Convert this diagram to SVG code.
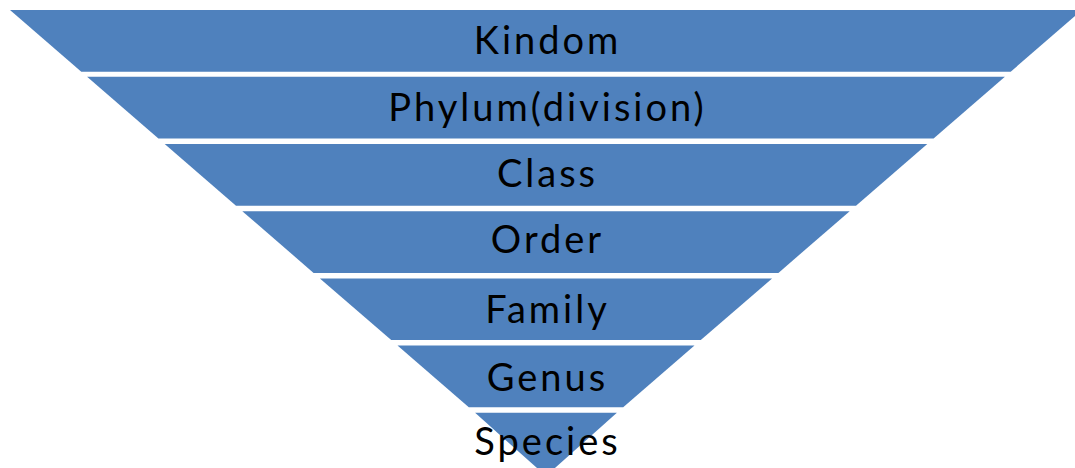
<svg xmlns="http://www.w3.org/2000/svg" width="1075" height="468" viewBox="0 0 1075 468">
<style>
.band{fill:#4F81BD}
.lbl{font-family:Lato,"Liberation Sans",sans-serif;font-size:38px;letter-spacing:3px;fill:#000;text-anchor:middle}
</style>
<rect width="1075" height="468" fill="#fff"/>
<g id="kingdom"><polygon class="band" points="10,10 1082,10 1010.7,71.7 81.3,71.7"/><text class="lbl" x="547.5" y="54">Kindom</text></g>
<g id="phylum"><polygon class="band" points="87.1,76.7 1004.9,76.7 933.6,138.4 158.4,138.4"/><text class="lbl" x="547.5" y="121">Phylum(division)</text></g>
<g id="class"><polygon class="band" points="164.7,144 927.3,144 856,205.7 236,205.7"/><text class="lbl" x="547.5" y="187">Class</text></g>
<g id="order"><polygon class="band" points="242.3,211.2 849.7,211.2 778.4,272.9 313.6,272.9"/><text class="lbl" x="547.5" y="253">Order</text></g>
<g id="family"><polygon class="band" points="319.9,278.4 772.1,278.4 700.8,340.1 391.2,340.1"/><text class="lbl" x="547.5" y="323">Family</text></g>
<g id="genus"><polygon class="band" points="397.5,345.6 694.5,345.6 623.2,407.3 468.8,407.3"/><text class="lbl" x="547.5" y="391">Genus</text></g>
<g id="species"><polygon class="band" points="475.1,412.8 616.9,412.8 546,476"/><text class="lbl" x="547.5" y="455">Species</text></g>
<g id="connectors"/>
</svg>
